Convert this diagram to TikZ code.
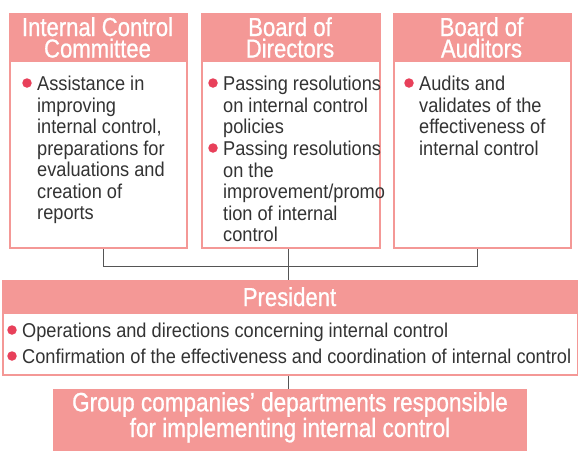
\documentclass[tikz,border=0pt]{standalone}
\usepackage{fontspec}
\newfontfamily\headfont[FakeStretch=0.85,FakeBold=0.8]{Liberation Sans}
\newfontfamily\bodyfont[FakeStretch=0.91]{Liberation Sans}
\definecolor{pinkc}{HTML}{F49896}
\definecolor{bulc}{HTML}{E8405A}
\definecolor{txtc}{HTML}{333333}
\definecolor{linec}{HTML}{555555}
\tikzset{
  boxframe/.style={draw=pinkc, line width=2pt, fill=white, inner sep=0pt, anchor=north west},
  headfill/.style={fill=pinkc, inner sep=0pt, anchor=north west},
  headtext/.style={text=white, font=\headfont\fontsize{26}{21.5}\selectfont, align=center, inner sep=0pt, anchor=base},
  bodytext/.style={text=txtc, font=\bodyfont\fontsize{20}{21.5}\selectfont, align=left, inner sep=0pt, anchor=base west},
  bul/.style={circle, fill=bulc, inner sep=0pt, minimum size=9.5pt},
  conn/.style={draw=linec, line width=1pt}
}
\begin{document}
\begin{tikzpicture}[x=1pt,y=-1pt]
\useasboundingbox (0,0) rectangle (578,451);
% top boxes
\node[boxframe, minimum width=177pt, minimum height=234pt] (icc) at (9,13) {};
\node[headfill, minimum width=177pt, minimum height=49pt] (icch) at (9,13) {};
\node[boxframe, minimum width=178pt, minimum height=234pt] (bod) at (201,13) {};
\node[headfill, minimum width=178pt, minimum height=49pt] (bodh) at (201,13) {};
\node[boxframe, minimum width=177pt, minimum height=234pt] (aud) at (393,13) {};
\node[headfill, minimum width=177pt, minimum height=49pt] (audh) at (393,13) {};
% header texts (anchor = baseline of last line)
\node[headtext] (icct) at (97.5,57.5) {Internal Control\\Committee};
\node[headtext] (bodt) at (290,57.5) {Board of\\Directors};
\node[headtext] (audt) at (481.5,57.5) {Board of\\Auditors};
% bullets box 1
\node[bul] (b1) at (27,83) {};
\node[bodytext] (t1) at (37,219.5) {Assistance in\\improving\\internal control,\\preparations for\\evaluations and\\creation of\\reports};
% box 2
\node[bul] (b2) at (213,83) {};
\node[bodytext] (t2) at (223,133.5) {Passing resolutions\\on internal control\\policies};
\node[bul] (b3) at (213,148) {};
\node[bodytext] (t3) at (223,241.5) {Passing resolutions\\on the\\improvement/promo\\tion of internal\\control};
% box 3
\node[bul] (b4) at (409,83) {};
\node[bodytext] (t4) at (419,155) {Audits and\\validates of the\\effectiveness of\\internal control};
% president
\node[boxframe, minimum width=575pt, minimum height=94pt] (pres) at (2,280) {};
\node[headfill, minimum width=575pt, minimum height=34pt] (presh) at (2,280) {};
\node[headtext] (prest) at (289.5,306) {President};
\node[bul] (b5) at (12,330) {};
\node[bodytext] (t5) at (22,337) {Operations and directions concerning internal control};
\node[bul] (b6) at (12,356) {};
\node[bodytext] (t6) at (22,363) {Confirmation of the effectiveness and coordination of internal control};
% group
\node[headfill, minimum width=474pt, minimum height=62pt] (grp) at (53,389) {};
\node[headtext, font=\headfont\fontsize{26.5}{23}\selectfont] (grpt) at (290,437) {Group companies’ departments responsible\\for implementing internal control};
% connectors
\coordinate (j1) at (103,266);
\coordinate (j2) at (288,266);
\coordinate (j3) at (477,266);
\draw[conn] (icc.south -| j1) -- (j1) -- (j3) -- (aud.south -| j3);
\draw[conn] (bod.south -| j2) -- (pres.north -| j2);
\draw[conn] (pres.south -| j2) -- (grp.north -| j2);
\end{tikzpicture}
\end{document}
